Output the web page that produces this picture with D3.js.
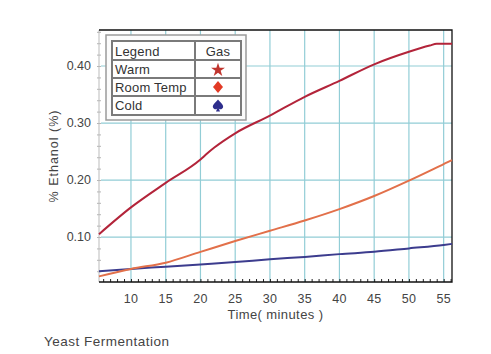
<!DOCTYPE html>
<html>
<head>
<meta charset="utf-8">
<script src="https://cdn.jsdelivr.net/npm/d3@7"></script>
<style>
  body { margin: 0; background: #fff; }
  text { font-family: "Liberation Sans", Arial, sans-serif; }
</style>
</head>
<body>
<div id="chart"></div>
<script>
// readings (minutes, % ethanol)
const warmTime = [5.4, 10, 15, 20, 21, 22, 25, 30, 35, 40, 45, 50, 53, 54, 56.2];
const warmVals = [0.105, 0.152, 0.195, 0.236, 0.247, 0.257, 0.282, 0.313, 0.346, 0.374, 0.403, 0.425, 0.436, 0.439, 0.439];
const roomTime = [5.4, 10, 15, 20, 25, 30, 35, 40, 45, 50, 55, 56.2];
const roomVals = [0.031, 0.044, 0.055, 0.074, 0.093, 0.111, 0.129, 0.149, 0.172, 0.199, 0.228, 0.235];
const coldTime = [5.4, 10, 15, 20, 25, 30, 35, 40, 45, 50, 55, 56.2];
const coldVals = [0.040, 0.044, 0.048, 0.052, 0.056, 0.061, 0.065, 0.070, 0.074, 0.080, 0.086, 0.088];

const xTicks = [10, 15, 20, 25, 30, 35, 40, 45, 50, 55];
const yTicks = [0.10, 0.20, 0.30, 0.40];
const legendRows = ["Warm", "Room Temp", "Cold"];

const width = 491, height = 354;
const plot = {left: 99, right: 452, top: 30, bottom: 282};

const svg = d3.select('#chart').append('svg')
    .attr('width', width)
    .attr('height', height);

const x = d3.scaleLinear().domain([5.4, 56.2]).range([plot.left, plot.right]);
const y = d3.scaleLinear().domain([0.0211, 0.4632]).range([plot.bottom, plot.top]);

// plot background
svg.append('rect')
    .attr('x', plot.left).attr('y', plot.top)
    .attr('width', plot.right - plot.left).attr('height', plot.bottom - plot.top)
    .attr('fill', '#fff');

// grid
const gridColor = '#92cdd6';
svg.append('g').selectAll('line')
    .data(xTicks).enter().append('line')
    .attr('x1', d => x(d)).attr('x2', d => x(d))
    .attr('y1', plot.top).attr('y2', plot.bottom)
    .attr('stroke', gridColor).attr('stroke-width', 1.2);
svg.append('g').selectAll('line')
    .data(yTicks).enter().append('line')
    .attr('x1', plot.left + 2).attr('x2', plot.right)
    .attr('y1', d => y(d)).attr('y2', d => y(d))
    .attr('stroke', gridColor).attr('stroke-width', 1.2);

// minor ticks on x (every minute), pointing up into the plot
const xAxis = d3.axisTop(x)
    .tickValues(d3.range(6, 57, 1))
    .tickSize(3)
    .tickFormat('');
svg.append('g')
    .attr('transform', `translate(0,${plot.bottom})`)
    .call(xAxis)
    .call(g => g.select('.domain').remove())
    .call(g => g.selectAll('line').attr('stroke', '#222'));

// minor ticks on y (every 0.02)
const yAxis = d3.axisRight(y)
    .tickValues(d3.range(0.04, 0.461, 0.02))
    .tickSize(4)
    .tickFormat('');
svg.append('g')
    .attr('transform', `translate(${plot.left - 2},0)`)
    .call(yAxis)
    .call(g => g.select('.domain').remove())
    .call(g => g.selectAll('line').attr('stroke', '#b5b5b5'));

// tick labels
svg.append('g').selectAll('text')
    .data(xTicks).enter().append('text')
    .attr('x', d => x(d)).attr('y', 303)
    .attr('text-anchor', 'middle')
    .attr('font-size', 12.5)
    .attr('letter-spacing', 0.3)
    .attr('fill', '#444')
    .text(d => d);
svg.append('g').selectAll('text')
    .data(yTicks).enter().append('text')
    .attr('x', 91).attr('y', d => y(d) + 4)
    .attr('text-anchor', 'end')
    .attr('font-size', 12.5)
    .attr('fill', '#444')
    .text(d => d.toFixed(2));

// frame
svg.append('line')
    .attr('x1', plot.left).attr('x2', plot.left).attr('y1', plot.top).attr('y2', plot.bottom)
    .attr('stroke', '#bbb').attr('stroke-width', 1);
svg.append('path')
    .attr('d', `M${plot.left},${plot.top}H${plot.right}V${plot.bottom}H${plot.left}`)
    .attr('fill', 'none').attr('stroke', '#111').attr('stroke-width', 1.3);

// lines
const line = d3.line()
    .x(d => x(d[0]))
    .y(d => y(d[1]))
    .curve(d3.curveMonotoneX);

const series = [
    { time: coldTime, vals: coldVals, color: '#3c3c8e' },
    { time: roomTime, vals: roomVals, color: '#e2704a' },
    { time: warmTime, vals: warmVals, color: '#b3243a' }
];
series.forEach(s => {
    svg.append('path')
        .datum(s.time.map((t, i) => [t, s.vals[i]]))
        .attr('d', line)
        .attr('fill', 'none')
        .attr('stroke', s.color)
        .attr('stroke-width', 2);
});

// legend
const lg = svg.append('g');
lg.append('rect')
    .attr('x', 106).attr('y', 35)
    .attr('width', 140).attr('height', 85)
    .attr('fill', '#fbfbfb')
    .attr('stroke', '#9a9a9a').attr('stroke-width', 1.5);

const rowY = [41, 60, 78, 96, 115];
const colX = [112, 195, 241];
lg.append('rect')
    .attr('x', colX[0]).attr('y', rowY[0])
    .attr('width', colX[2] - colX[0]).attr('height', rowY[4] - rowY[0])
    .attr('fill', '#fff')
    .attr('stroke', '#7a7a7a').attr('stroke-width', 2);
lg.selectAll('.rowline')
    .data(rowY.slice(1, 4)).enter().append('line')
    .attr('x1', colX[0]).attr('x2', colX[2])
    .attr('y1', d => d).attr('y2', d => d)
    .attr('stroke', '#7a7a7a').attr('stroke-width', 2);
lg.append('line')
    .attr('x1', colX[1]).attr('x2', colX[1])
    .attr('y1', rowY[0]).attr('y2', rowY[4])
    .attr('stroke', '#7a7a7a').attr('stroke-width', 2);

lg.append('text')
    .attr('x', 115).attr('y', 56)
    .attr('font-size', 13).attr('letter-spacing', 0.2).attr('fill', '#333')
    .text('Legend');
lg.append('text')
    .attr('x', (colX[1] + colX[2]) / 2).attr('y', 56)
    .attr('text-anchor', 'middle')
    .attr('font-size', 13).attr('letter-spacing', 0.2).attr('fill', '#333')
    .text('Gas');
lg.selectAll('.rowlabel')
    .data(legendRows).enter().append('text')
    .attr('x', 115)
    .attr('y', (d, i) => rowY[i + 1] + 14)
    .attr('font-size', 13).attr('letter-spacing', 0.2).attr('fill', '#333')
    .text(d => d);

const symX = (colX[1] + colX[2]) / 2;
lg.append('path')
    .attr('d', d3.symbol(d3.symbolStar, 60)())
    .attr('transform', `translate(${symX},${(rowY[1] + rowY[2]) / 2 + 1})`)
    .attr('fill', '#c0352e');
lg.append('path')
    .attr('d', 'M0,-6L5,0L0,6L-5,0Z')
    .attr('transform', `translate(${symX},${(rowY[2] + rowY[3]) / 2})`)
    .attr('fill', '#e23a25');
// spade
lg.append('path')
    .attr('d', 'M0,-6C2,-3 6,-1 5,2C4,4.5 1,4 0.6,2.5L2,6H-2L-0.6,2.5C-1,4 -4,4.5 -5,2C-6,-1 -2,-3 0,-6Z')
    .attr('transform', `translate(${symX},${(rowY[3] + rowY[4]) / 2})`)
    .attr('fill', '#2e2e8c');

// axis titles
svg.append('text')
    .attr('x', x((5.4 + 56.2) / 2)).attr('y', 318.5)
    .attr('text-anchor', 'middle')
    .attr('font-size', 13).attr('letter-spacing', 0.4).attr('fill', '#444')
    .text('Time( minutes )');
svg.append('text')
    .attr('transform', `translate(58,${(plot.top + plot.bottom) / 2}) rotate(-90)`)
    .attr('text-anchor', 'middle')
    .attr('font-size', 12.5).attr('letter-spacing', 1).attr('fill', '#444')
    .text('% Ethanol (%)');

svg.append('text')
    .attr('x', 44).attr('y', 346)
    .attr('font-size', 13.5).attr('letter-spacing', 0.5).attr('fill', '#444')
    .text('Yeast Fermentation');
</script>
</body>
</html>
